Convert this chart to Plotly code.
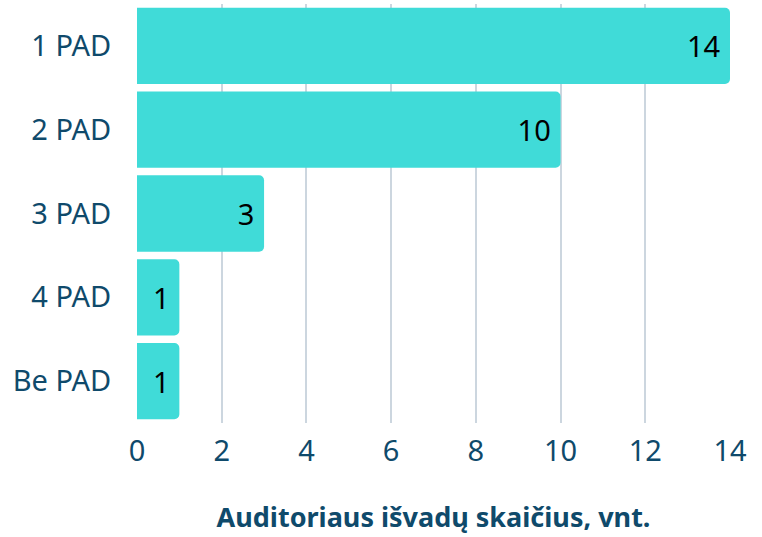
import plotly.graph_objects as go

categories = ["1 PAD", "2 PAD", "3 PAD", "4 PAD", "Be PAD"]
values = [14, 10, 3, 1, 1]
x_ticks = [0, 2, 4, 6, 8, 10, 12, 14]
x_title = "Auditoriaus išvadų skaičius, vnt."

FONT = "Noto Sans"
DARK = "#0f4a6b"

fig = go.Figure(go.Bar(
    y=categories,
    x=values,
    orientation="h",
    marker=dict(color="#40dbd8", line=dict(width=0)),
    text=[str(v) + "\u2009" for v in values],
    textposition="inside",
    insidetextanchor="end",
    textfont=dict(family=FONT, size=29, color="#000000"),
    cliponaxis=False,
    hoverinfo="skip",
))

fig.update_layout(
    width=762, height=537,
    margin=dict(l=137, r=32, t=4, b=114),
    paper_bgcolor="white", plot_bgcolor="white",
    bargap=0.09,
    barcornerradius=5,
    showlegend=False,
    font=dict(family=FONT, color=DARK),
)
fig.update_xaxes(
    range=[0, 14],
    tickvals=x_ticks,
    automargin=False,
    showgrid=True, gridcolor="#ccd6df", gridwidth=2,
    zeroline=False,
    showline=False,
    tickfont=dict(size=29, color=DARK),
    ticks="outside", ticklen=2, tickcolor="rgba(0,0,0,0)",
    title=dict(text=x_title, font=dict(size=27, color=DARK, weight="bold"), standoff=40),
)
fig.update_yaxes(
    categoryorder="array",
    categoryarray=categories,
    autorange="reversed",
    automargin=False,
    showgrid=False,
    showline=False,
    tickfont=dict(size=29, color=DARK),
    ticks="outside", ticklen=19, tickcolor="rgba(0,0,0,0)",
)

fig.write_html(
    "out.html",
    config={"displayModeBar": False},
    post_script="document.body.style.margin='0px';document.body.style.overflow='hidden';",
)
